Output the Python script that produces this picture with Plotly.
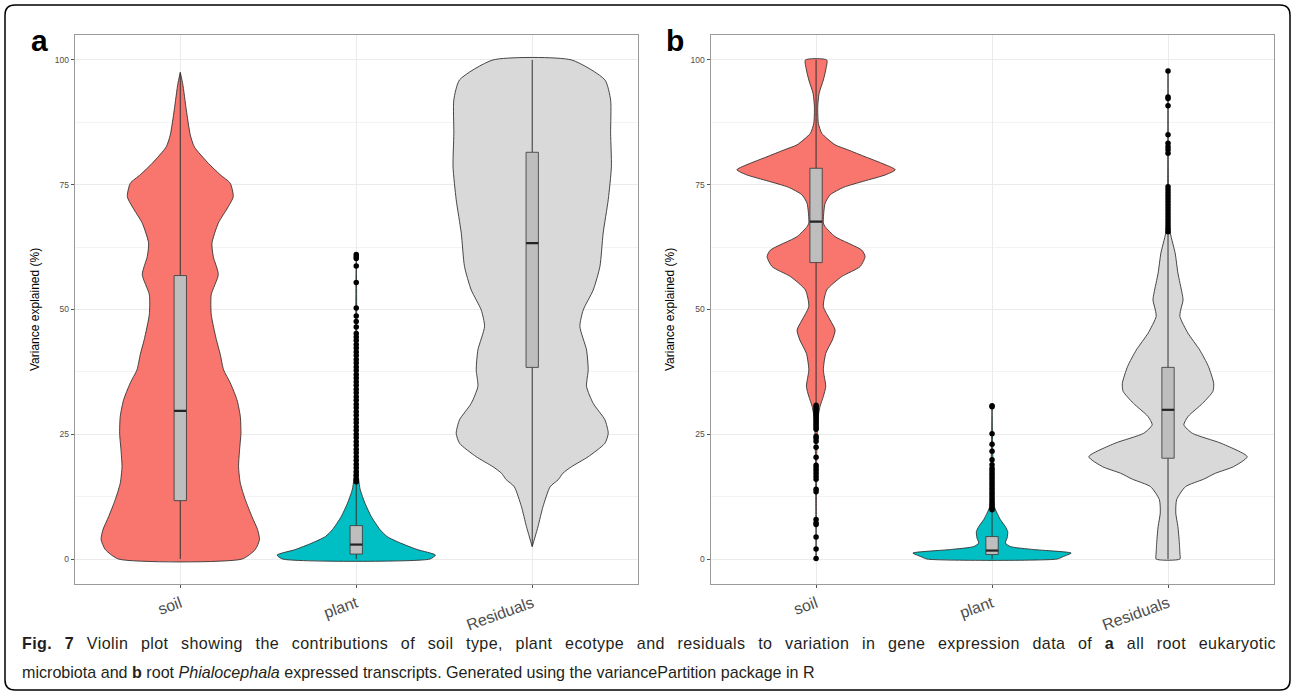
import plotly.graph_objects as go

W, H = 1295, 695

CATEGORIES = ["soil", "plant", "Residuals"]
FILLS = ["#F8766D", "#00BFC4", "#D9D9D9"]
Y_TICKS = [0, 25, 50, 75, 100]

# ---------------- Panel a : violin profiles (y, relative density) ----------------
A_SOIL_Y = [97.5, 95.3, 90, 85, 82.6, 79.3, 77, 75.3, 72.6, 70.6, 67.3, 63.3, 60.6, 57, 53, 49, 44, 41,
            37.9, 35.3, 31.9, 28.6, 25.2, 21.9, 18.5, 15.2, 11.9, 8.5, 5.9, 3.9, 1.9, 0]
A_SOIL_D = [0, 0.03, 0.076, 0.126, 0.177, 0.354, 0.505, 0.631, 0.669, 0.606, 0.48, 0.40, 0.417, 0.48, 0.391,
            0.391, 0.455, 0.505, 0.547, 0.631, 0.716, 0.758, 0.766, 0.749, 0.736, 0.758, 0.821, 0.905, 0.976,
            1.0, 0.947, 0.779]
A_PLANT_Y = [61.0, 55, 45, 35, 25, 20, 16, 13.9, 11.2, 8.5, 5.9, 4.5, 3.2, 1.9, 0.8, 0]
A_PLANT_D = [0, 0.004, 0.006, 0.008, 0.012, 0.018, 0.03, 0.05, 0.11, 0.19, 0.30, 0.39, 0.56, 0.77, 1.0, 0.93]
A_RESID_Y = [100, 96, 92, 85.3, 78.6, 72, 65.3, 58.6, 53.9, 49.9, 46.6, 41.9, 37.9, 34.6, 31.2, 27.9, 25.2,
             23.2, 20.5, 18.5, 17.2, 15.9, 14.5, 10.5, 6.5, 2.5]
A_RESID_D = [0.496, 0.918, 0.99, 0.99, 1.0, 0.96, 0.896, 0.855, 0.77, 0.644, 0.602, 0.686, 0.707, 0.686, 0.77,
             0.918, 0.96, 0.918, 0.707, 0.496, 0.388, 0.328, 0.227, 0.136, 0.073, 0]

# Panel a : box statistics (soil, plant, Residuals)
A_LO = [0, 0, 2.5]
A_Q1 = [11.7, 1.0, 38.4]
A_MED = [29.7, 2.9, 63.3]
A_Q3 = [56.8, 6.7, 81.5]
A_HI = [97.5, 15.3, 100]

# Panel a : outliers of "plant"
A_PLANT_OUT = [61.0, 60.6, 60.2, 58.7, 55.4, 50.3, 48.7, 47.6, 46.5, 45.2, 44.5, 43.8, 43.0, 42.3, 41.5, 40.8,
               40.0, 39.3, 38.5, 37.8, 37.0, 36.3, 35.5, 34.8, 34.0, 33.3, 32.5, 31.8, 31.0, 30.3, 29.5, 28.8,
               28.0, 27.3, 26.5, 25.8, 25.0, 24.3, 23.5, 22.8, 22.0, 21.3, 20.5, 19.8, 19.0, 18.3, 17.5, 16.8,
               16.0, 15.5]

# ---------------- Panel b ----------------
B_SOIL_Y = [100, 98, 96, 93.3, 90.6, 87.3, 85.3, 83, 82, 80.6, 79.3, 78.0, 77.0, 75.7, 74.5, 73, 71.3, 67.3,
            66.6, 64.6, 61.9, 60.6, 58.6, 56.6, 53.9, 50.6, 47.9, 45.9, 43.9, 41.2, 37.9, 34.6, 32.6, 30.6,
            27.9, 21.9, 10, 0]
B_SOIL_D = [0.135, 0.122, 0.092, 0.038, 0.021, 0.029, 0.072, 0.24, 0.40, 0.62, 0.83, 1.0, 0.88, 0.6, 0.35,
            0.18, 0.114, 0.092, 0.114, 0.24, 0.577, 0.619, 0.556, 0.324, 0.135, 0.092, 0.177, 0.24, 0.206,
            0.122, 0.092, 0.122, 0.092, 0.05, 0.021, 0.009, 0.003, 0]
B_PLANT_Y = [30.7, 25, 20, 15, 12, 10.5, 9.2, 7.9, 6.5, 5.5, 4.2, 3.2, 2.5, 1.9, 1.2, 0.5, 0]
B_PLANT_D = [0, 0.005, 0.01, 0.015, 0.02, 0.029, 0.063, 0.105, 0.168, 0.198, 0.19, 0.168, 0.231, 0.526, 1.0,
             0.9, 0.82]
B_RESID_Y = [97.8, 80, 70, 65.3, 61.3, 57.3, 53.3, 51.9, 49.9, 48.6, 45.3, 41.9, 38.6, 35.2, 33.6, 31.2, 28.6,
             26.9, 25.2, 23.2, 20.5, 18.5, 17.2, 16.0, 14.5, 11.9, 9.2, 6.5, 3.9, 1.2, 0]
B_RESID_D = [0, 0.003, 0.01, 0.03, 0.09, 0.125, 0.177, 0.19, 0.16, 0.15, 0.25, 0.40, 0.51, 0.577, 0.567, 0.437,
             0.255, 0.20, 0.307, 0.67, 1.0, 0.826, 0.6, 0.45, 0.22, 0.109, 0.098, 0.125, 0.14, 0.15, 0.15]

B_LO = [31.0, 0, 0]
B_Q1 = [59.4, 0.9, 20.2]
B_MED = [67.6, 1.7, 29.9]
B_Q3 = [78.3, 4.5, 38.4]
B_HI = [100, 9.7, 65.4]

B_SOIL_OUT = [30.8, 30.4, 30.0, 29.6, 29.2, 28.8, 28.4, 28.0, 27.6, 27.2, 26.8, 26.4, 26.0, 24.6, 24.2, 23.6,
              22.4, 20.4, 18.8, 18.3, 17.8, 17.2, 16.6, 16.0, 14.0, 13.5, 7.9, 7.2, 6.9, 4.4, 2.0, 0.1]
B_PLANT_OUT = [30.7, 30.5, 25.1, 23.0, 21.6, 19.9, 18.9, 18.2, 17.7, 17.2, 16.7, 16.2, 15.7, 15.2, 14.7, 14.2,
               13.7, 13.2, 12.7, 12.2, 11.7, 11.2, 10.7, 10.2, 9.9]
B_RESID_OUT = [97.8, 92.6, 92.3, 90.8, 85.0, 83.3, 82.6, 82.0, 81.3, 74.6, 74.0, 73.4, 72.8, 72.2, 71.6, 71.0,
               70.4, 69.8, 69.2, 68.6, 68.0, 67.4, 66.8, 66.2, 65.6]

# ---------------- style constants ----------------
VIOLIN_HALF = 0.45
BOX_HALF = 0.035
OUTLINE = "#333333"
BOX_FILL = "#BEBEBE"

fig = go.Figure()


def add_panel(xa, ya, profiles, lo, q1, med, q3, hi, outliers):
    for i, (ys, ds) in enumerate(profiles):
        c = i + 1
        xs = [c - VIOLIN_HALF * d for d in ds] + [c + VIOLIN_HALF * d for d in ds][::-1]
        yy = list(ys) + list(ys)[::-1]
        xs.append(xs[0])
        yy.append(yy[0])
        fig.add_trace(go.Scatter(x=xs, y=yy, mode="lines", fill="toself", fillcolor=FILLS[i],
                                 line=dict(color=OUTLINE, width=0.9, shape="spline", smoothing=0.6),
                                 xaxis=xa, yaxis=ya, hoverinfo="skip", showlegend=False))
    for i in range(3):
        c = i + 1
        # whiskers
        fig.add_trace(go.Scatter(x=[c, c, None, c, c], y=[lo[i], q1[i], None, q3[i], hi[i]], mode="lines",
                                 line=dict(color=OUTLINE, width=1), xaxis=xa, yaxis=ya,
                                 hoverinfo="skip", showlegend=False))
        # box
        fig.add_trace(go.Scatter(x=[c - BOX_HALF, c + BOX_HALF, c + BOX_HALF, c - BOX_HALF, c - BOX_HALF],
                                 y=[q1[i], q1[i], q3[i], q3[i], q1[i]], mode="lines", fill="toself",
                                 fillcolor=BOX_FILL, line=dict(color=OUTLINE, width=0.8),
                                 xaxis=xa, yaxis=ya, hoverinfo="skip", showlegend=False))
        # median
        fig.add_trace(go.Scatter(x=[c - BOX_HALF, c + BOX_HALF], y=[med[i], med[i]], mode="lines",
                                 line=dict(color="#222222", width=2.2), xaxis=xa, yaxis=ya,
                                 hoverinfo="skip", showlegend=False))
    for i, pts in outliers.items():
        fig.add_trace(go.Scatter(x=[i + 1] * len(pts), y=pts, mode="markers",
                                 marker=dict(color="black", size=5.5), xaxis=xa, yaxis=ya,
                                 hoverinfo="skip", showlegend=False))


add_panel("x", "y", [(A_SOIL_Y, A_SOIL_D), (A_PLANT_Y, A_PLANT_D), (A_RESID_Y, A_RESID_D)],
          A_LO, A_Q1, A_MED, A_Q3, A_HI, {1: A_PLANT_OUT})
add_panel("x2", "y2", [(B_SOIL_Y, B_SOIL_D), (B_PLANT_Y, B_PLANT_D), (B_RESID_Y, B_RESID_D)],
          B_LO, B_Q1, B_MED, B_Q3, B_HI, {0: B_SOIL_OUT, 1: B_PLANT_OUT, 2: B_RESID_OUT})

FONT = "Liberation Sans, Arial, sans-serif"
y_dom = [1 - 584 / H, 1 - 35 / H]


def xaxis(dom, anchor):
    return dict(domain=dom, anchor=anchor, range=[0.4, 3.6], tickmode="array", tickvals=[1, 2, 3],
                ticktext=CATEGORIES, tickangle=-20, tickfont=dict(family=FONT, size=16, color="#4D4D4D"),
                showgrid=True, gridcolor="#EBEBEB", gridwidth=1.2, zeroline=False, showline=True,
                mirror=True, linecolor="#9A9A9A", linewidth=1, ticks="outside", ticklen=3,
                tickcolor="#555555", fixedrange=True)


def yaxis(anchor):
    return dict(domain=y_dom, anchor=anchor, range=[-5, 105], tickmode="array", tickvals=Y_TICKS,
                tickfont=dict(family=FONT, size=8.5, color="#4D4D4D"), showgrid=True, gridcolor="#EBEBEB",
                gridwidth=1.2, minor=dict(tickvals=[12.5, 37.5, 62.5, 87.5], showgrid=True,
                                          gridcolor="#F3F3F3", gridwidth=0.7, ticks=""),
                zeroline=False, showline=True, mirror=True, linecolor="#9A9A9A", linewidth=1,
                ticks="outside", ticklen=3, tickcolor="#555555", fixedrange=True)


fig.update_layout(
    width=W, height=H, margin=dict(l=0, r=0, t=0, b=0),
    paper_bgcolor="white", plot_bgcolor="white", showlegend=False,
    xaxis=xaxis([74.7 / W, 637.8 / W], "y"), yaxis=yaxis("x"),
    xaxis2=xaxis([710.5 / W, 1273.6 / W], "y2"), yaxis2=yaxis("x2"),
)

ann = []
for lab, px in (("a", 29), ("b", 664)):
    ann.append(dict(text=f"<b>{lab}</b>", x=px / W, y=1 - 41 / H, xref="paper", yref="paper",
                    xanchor="left", yanchor="middle", showarrow=False,
                    font=dict(family=FONT, size=30, color="black")))
for px in (35, 670):
    ann.append(dict(text="Variance explained (%)", x=px / W, y=1 - 310 / H, xref="paper", yref="paper",
                    textangle=-90, xanchor="center", yanchor="middle", showarrow=False,
                    font=dict(family=FONT, size=12, color="black")))
ann.append(dict(text="<span style=\"letter-spacing:0.4px;word-spacing:7.75px\"><b>Fig. 7</b> Violin plot "
                     "showing the contributions of soil type, plant ecotype and residuals to variation in "
                     "gene expression data of <b>a</b> all root eukaryotic</span>",
                x=20 / W, y=1 - 643 / H, xref="paper", yref="paper", xanchor="left", yanchor="middle",
                showarrow=False, font=dict(family=FONT, size=16.1, color="#231F20")))
ann.append(dict(text="microbiota and <b>b</b> root <i>Phialocephala</i> expressed transcripts. Generated "
                     "using the variancePartition package in R",
                x=20 / W, y=1 - 672 / H, xref="paper", yref="paper", xanchor="left", yanchor="middle",
                showarrow=False, font=dict(family=FONT, size=16.1, color="#231F20")))
fig.update_layout(annotations=ann)

# rounded outer frame
x0, x1 = 5 / W, 1290 / W
yt, yb = 1 - 5 / H, 1 - 690 / H
rx, ry = 10 / W, 10 / H
path = (f"M {x0+rx},{yt} L {x1-rx},{yt} Q {x1},{yt} {x1},{yt-ry} L {x1},{yb+ry} Q {x1},{yb} {x1-rx},{yb} "
        f"L {x0+rx},{yb} Q {x0},{yb} {x0},{yb+ry} L {x0},{yt-ry} Q {x0},{yt} {x0+rx},{yt} Z")
fig.add_shape(type="path", path=path, xref="paper", yref="paper", line=dict(color="black", width=1.5))

fig.write_html("out.html")
